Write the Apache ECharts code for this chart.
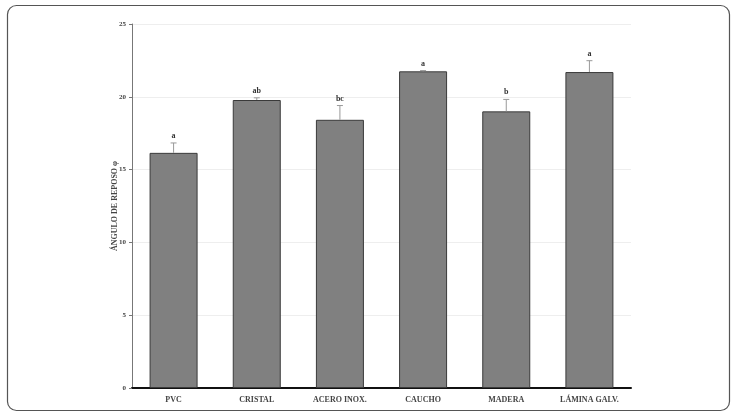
<!DOCTYPE html>
<html>
<head>
<meta charset="utf-8">
<script src="https://cdn.jsdelivr.net/npm/echarts@6/dist/echarts.min.js"></script>
<style>
    html, body { margin: 0; padding: 0; background: #fff; }
    #chart { width: 737px; height: 418px; }
</style>
</head>
<body>
<div id="chart"></div>
<script>
// datos
const categories = ['PVC', 'CRISTAL', 'ACERO INOX.', 'CAUCHO', 'MADERA', 'LÁMINA GALV.'];
const means = [16.15, 19.78, 18.42, 21.75, 19.0, 21.7];
const errors = [0.68, 0.15, 0.98, 0.05, 0.82, 0.78];
const letters = ['a', 'ab', 'bc', 'a', 'b', 'a'];

const serif = '"Liberation Serif", "DejaVu Serif", serif';

const chart = echarts.init(document.getElementById('chart'));

const errorData = means.map((m, i) => [i, m, m + errors[i], letters[i]]);

const option = {
    animation: false,
    graphic: [{
        type: 'rect',
        shape: { x: 7.5, y: 5.5, width: 722, height: 405, r: 9 },
        style: { fill: 'none', stroke: '#555', lineWidth: 1.2 },
        silent: true
    }],
    grid: { left: 132, right: 106, top: 24, bottom: 30 },
    xAxis: {
        type: 'category',
        data: categories,
        axisLine: { lineStyle: { color: '#111', width: 2 } },
        axisTick: { show: false },
        axisLabel: {
            fontFamily: serif, fontWeight: 'bold', fontSize: 8, color: '#444', margin: 8
        }
    },
    yAxis: {
        type: 'value',
        min: 0, max: 25, interval: 5,
        name: 'ÁNGULO DE REPOSO φ',
        nameLocation: 'middle',
        nameGap: 13,
        nameMoveOverlap: false,
        nameTextStyle: { fontFamily: serif, fontWeight: 'bold', fontSize: 8, color: '#444' },
        axisLine: { show: true, lineStyle: { color: '#777', width: 1 } },
        axisTick: { show: true, length: 3, lineStyle: { color: '#777' } },
        axisLabel: { fontFamily: serif, fontWeight: 'bold', fontSize: 7, color: '#444', margin: 6 },
        splitLine: { lineStyle: { color: '#eee' } }
    },
    series: [
        {
            type: 'bar',
            data: means,
            barWidth: 48,
            itemStyle: { color: '#808080', borderColor: '#3a3a3a', borderWidth: 1 }
        },
        {
            type: 'custom',
            data: errorData,
            z: 3,
            renderItem(params, api) {
                const base = api.coord([api.value(0), api.value(1)]);
                const top = api.coord([api.value(0), api.value(2)]);
                const x = base[0];
                return {
                    type: 'group',
                    children: [
                        { type: 'line', shape: { x1: x, y1: base[1], x2: x, y2: top[1] },
                          style: { stroke: '#999', lineWidth: 1 } },
                        { type: 'line', shape: { x1: x - 3, y1: top[1], x2: x + 3, y2: top[1] },
                          style: { stroke: '#999', lineWidth: 1 } },
                        { type: 'text', x: x, y: top[1] - 3,
                          style: { text: api.value(3), textAlign: 'center', textVerticalAlign: 'bottom',
                                   font: 'bold 8px ' + serif, fill: '#333' } }
                    ]
                };
            }
        }
    ]
};
chart.setOption(option);
</script>
</body>
</html>
